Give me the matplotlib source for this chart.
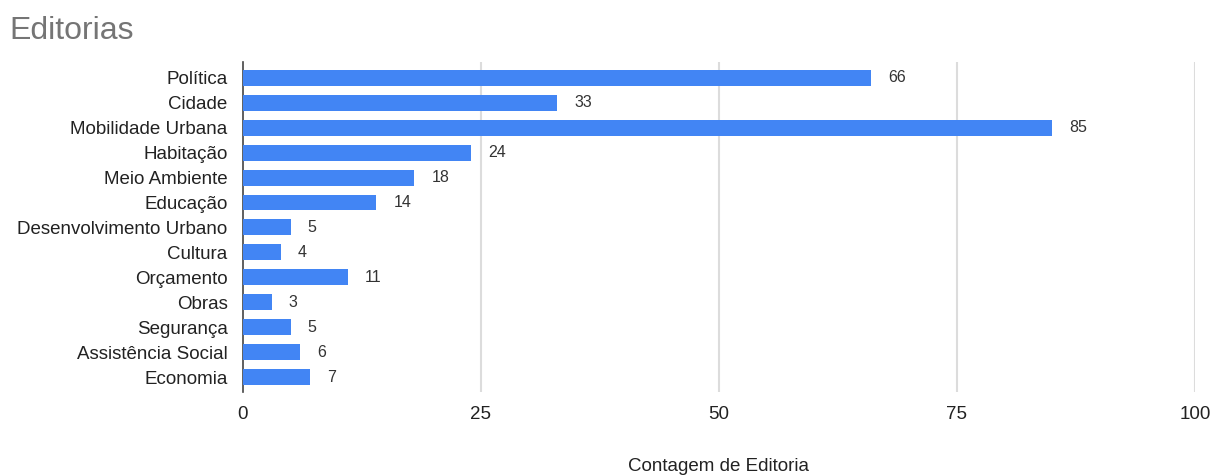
import matplotlib.pyplot as plt

plt.rcParams['font.family'] = ['Liberation Sans', 'DejaVu Sans']

categorias = ["Política", "Cidade", "Mobilidade Urbana", "Habitação", "Meio Ambiente",
              "Educação", "Desenvolvimento Urbano", "Cultura", "Orçamento", "Obras",
              "Segurança", "Assistência Social", "Economia"]
contagem = [66, 33, 85, 24, 18, 14, 5, 4, 11, 3, 5, 6, 7]
xticks = [0, 25, 50, 75, 100]

fig = plt.figure(figsize=(12.15, 4.75), dpi=100)
ax = fig.add_axes([0.2, 0.1747, 0.7835, 0.695])

pos = list(range(len(categorias)))
ax.barh(pos, contagem, height=0.64, color="#4285f4", zorder=3)

# rótulos de valor à direita de cada barra
for y, v in zip(pos, contagem):
    ax.annotate(str(v), xy=(v, y), xytext=(17, 0), textcoords="offset pixels",
                ha="left", va="center", fontsize=11.5, color="#333333")

ax.set_xlim(0, 100)
ax.set_ylim(12.6, -0.64)
ax.set_yticks(pos)
ax.set_yticklabels(categorias, fontsize=13.5, color="#222222")
ax.set_xticks(xticks)
ax.set_xticklabels([str(t) for t in xticks], fontsize=13.5, color="#222222")
ax.tick_params(axis="both", length=0)
ax.tick_params(axis="x", pad=10)
ax.tick_params(axis="y", pad=11)

for t in xticks[1:]:
    ax.axvline(t, color="#dcdcdc", lw=1.5, zorder=1)

for s in ["top", "right", "bottom"]:
    ax.spines[s].set_visible(False)
ax.spines["left"].set_color("#444444")
ax.spines["left"].set_linewidth(1.2)

ax.set_xlabel("Contagem de Editoria", fontsize=13.5, color="#222222", labelpad=25)
fig.text(0.008, 0.935, "Editorias", fontsize=23, color="#757575", ha="left", va="center")

fig.savefig("out.png", dpi=100)
